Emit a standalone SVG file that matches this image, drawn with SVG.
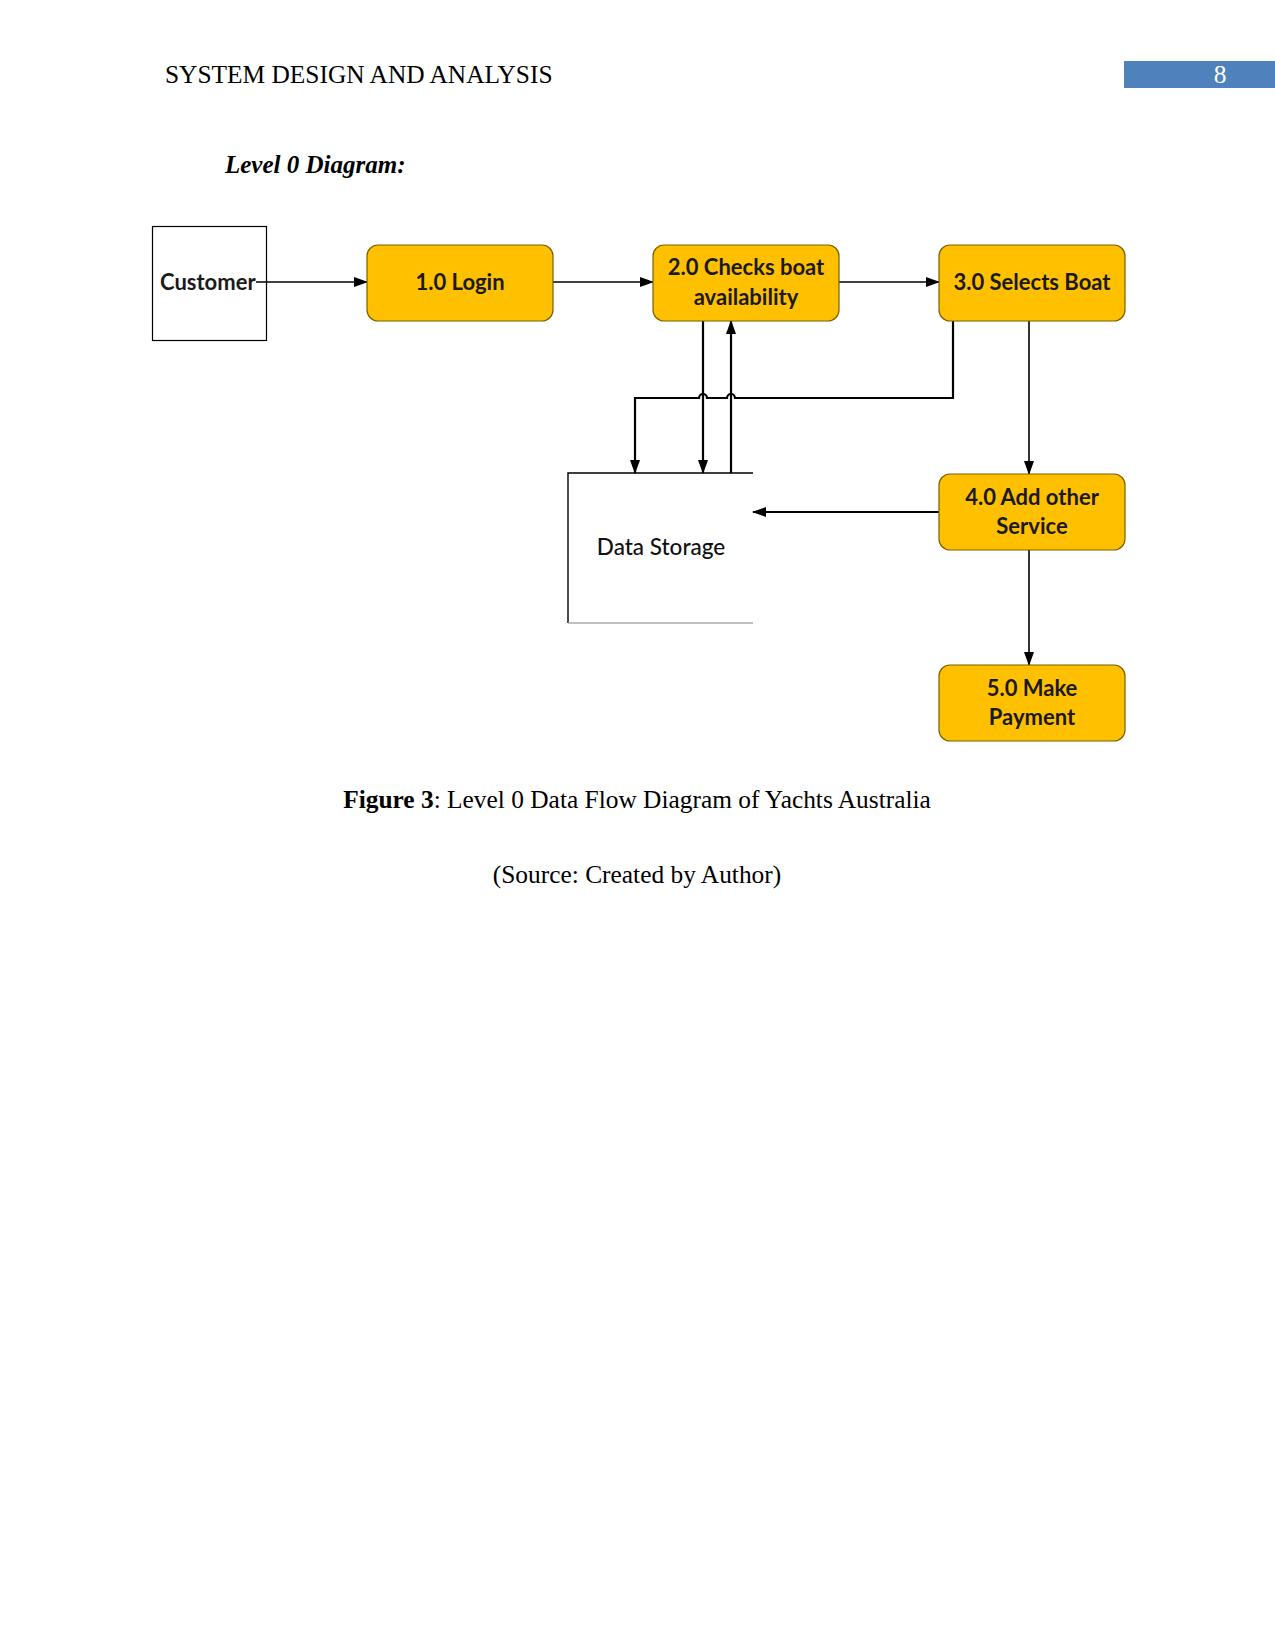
<svg xmlns="http://www.w3.org/2000/svg" width="1275" height="1650" viewBox="0 0 1275 1650">
<style>
.hdr{font-family:"Liberation Serif","Times New Roman",serif;font-size:25.4px;fill:#000}
.proc{fill:#FFC000;stroke:#7a6000;stroke-width:1.2}
.pt{font-family:Lato,"Noto Sans",sans-serif;font-weight:bold;font-size:22px;fill:#1a1a1a;text-anchor:middle}
.ln{fill:none;stroke:#000;stroke-width:1.6}
.lnb{fill:none;stroke:#000;stroke-width:2.2}
</style>
<defs>
<marker id="ah" markerWidth="14" markerHeight="10" refX="13" refY="5" orient="auto" markerUnits="userSpaceOnUse">
<path d="M0,0 L14,5 L0,10 Z" fill="#000"/>
</marker>
</defs>
<rect width="1275" height="1650" fill="#fff"/>
<g id="header">
<text class="hdr" x="165" y="83">SYSTEM DESIGN AND ANALYSIS</text>
<rect x="1124" y="61" width="151" height="27" fill="#4F81BD"/>
<text class="hdr" x="1220" y="83" style="fill:#fff" text-anchor="middle">8</text>
<text x="225" y="173" font-family="Liberation Serif,serif" font-size="25" font-weight="bold" font-style="italic">Level 0 Diagram:</text>
</g>
<g id="customer">
<rect x="152.5" y="226.5" width="114" height="114" fill="none" stroke="#000" stroke-width="1.2"/>
<text class="pt" x="160" y="290" style="text-anchor:start">Customer</text>
</g>
<g id="connectors">
<path class="ln" d="M256,282 H367" marker-end="url(#ah)"/>
<path class="ln" d="M553,282 H653" marker-end="url(#ah)"/>
<path class="ln" d="M839,282 H939" marker-end="url(#ah)"/>
<path class="lnb" d="M703,321 V473" marker-end="url(#ah)"/>
<path class="lnb" d="M731,473 V321" marker-end="url(#ah)"/>
<path class="lnb" d="M953,321 V398 H735 A4,4 0 0 0 727,398 H707 A4,4 0 0 0 699,398 H635 V473" marker-end="url(#ah)"/>
<path class="ln" d="M1029,321 V474" marker-end="url(#ah)"/>
<path class="lnb" d="M939,512 H753" marker-end="url(#ah)"/>
<path class="ln" d="M1029,550 V665" marker-end="url(#ah)"/>
</g>
<g id="p1">
<rect class="proc" x="367" y="245" width="186" height="76" rx="11"/>
<text class="pt" x="460" y="290">1.0 Login</text>
</g>
<g id="p2">
<rect class="proc" x="653" y="245" width="186" height="76" rx="11"/>
<text class="pt" x="746" y="275">2.0 Checks boat</text>
<text class="pt" x="746" y="305">availability</text>
</g>
<g id="p3">
<rect class="proc" x="939" y="245" width="186" height="76" rx="11"/>
<text class="pt" x="1032" y="290">3.0 Selects Boat</text>
</g>
<g id="datastore">
<path d="M753,473 H568 V623" fill="none" stroke="#000" stroke-width="1.4"/>
<path d="M568,623 H753" fill="none" stroke="#aaa" stroke-width="1.6"/>
<text x="661" y="555" font-family="Lato,'Noto Sans',sans-serif" font-size="22.5" font-weight="500" text-anchor="middle" fill="#111">Data Storage</text>
</g>
<g id="p4">
<rect class="proc" x="939" y="474" width="186" height="76" rx="11"/>
<text class="pt" x="1032" y="505">4.0 Add other</text>
<text class="pt" x="1032" y="534">Service</text>
</g>
<g id="p5">
<rect class="proc" x="939" y="665" width="186" height="76" rx="11"/>
<text class="pt" x="1032" y="696">5.0 Make</text>
<text class="pt" x="1032" y="725">Payment</text>
</g>
<g id="caption">
<text class="hdr" x="637" y="808" text-anchor="middle"><tspan font-weight="bold">Figure 3</tspan>: Level 0 Data Flow Diagram of Yachts Australia</text>
<text class="hdr" x="637" y="883" text-anchor="middle">(Source: Created by Author)</text>
</g>
</svg>
